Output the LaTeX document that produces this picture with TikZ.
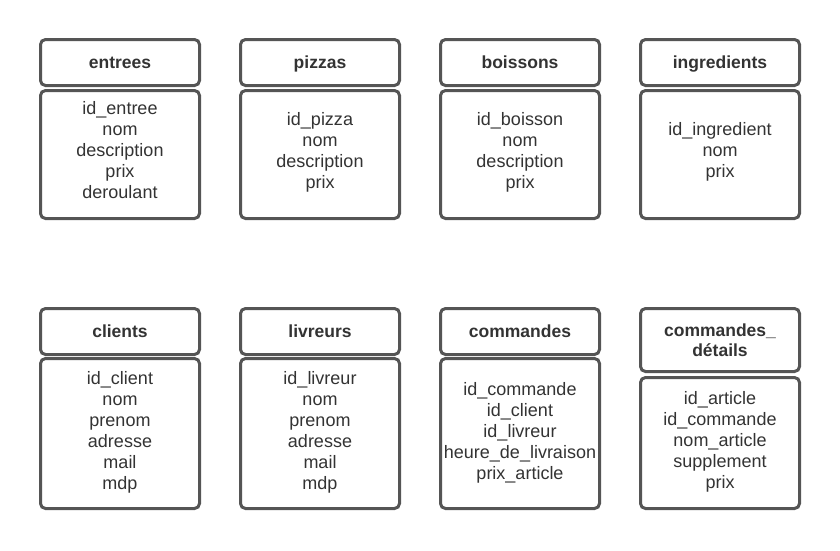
\documentclass[tikz,border=0pt]{standalone}
\usepackage{fontspec}
\setmainfont{Liberation Sans}
\usetikzlibrary{positioning}
\definecolor{edgegray}{HTML}{555555}
\definecolor{txtgray}{HTML}{333333}

\begin{document}
\begin{tikzpicture}[
    x=1pt, y=-1pt,
    every node/.style={align=center, rounded corners=5pt, very thick, outer sep=0pt, text=txtgray},
    tname/.style={draw=edgegray, line width=3pt, fill=white, minimum width=159pt, minimum height=46pt, text height=12.5pt, text depth=0pt, font=\fontsize{17.5}{20}\selectfont\bfseries},
    tfields/.style={draw=edgegray, line width=3pt, fill=white, minimum width=159pt, text depth=5.5pt, font=\fontsize{18}{21}\selectfont},
    topfields/.style={tfields, minimum height=128pt, text depth=9pt}
  ]
    \useasboundingbox (0,0) rectangle (840,550);

    % premiere ligne de tables
    \node[tname] (entrees) at (120,62.5) {entrees};
    \node[topfields,below=5pt of entrees] (entreesF) {id\_entree\\nom\\description\\prix\\deroulant};

    \node[tname] (pizzas) at (320,62.5) {pizzas};
    \node[topfields,below=5pt of pizzas] (pizzasF) {id\_pizza\\nom\\description\\prix};

    \node[tname] (boissons) at (520,62.5) {boissons};
    \node[topfields,below=5pt of boissons] (boissonsF) {id\_boisson\\nom\\description\\prix};

    \node[tname] (ingredients) at (720,62.5) {ingredients};
    \node[topfields,below=5pt of ingredients] (ingredientsF) {id\_ingredient\\nom\\prix};

    % deuxieme ligne de tables
    \node[tname] (clients) at (120,331.5) {clients};
    \node[tfields,minimum height=150pt,below=4pt of clients] (clientsF) {id\_client\\nom\\prenom\\adresse\\mail\\mdp};

    \node[tname] (livreurs) at (320,331.5) {livreurs};
    \node[tfields,minimum height=150pt,below=4pt of livreurs] (livreursF) {id\_livreur\\nom\\prenom\\adresse\\mail\\mdp};

    \node[tname] (commandes) at (520,331.5) {commandes};
    \node[tfields,minimum height=150pt,below=4pt of commandes] (commandesF) {id\_commande\\id\_client\\id\_livreur\\heure\_de\_livraison\\prix\_article};

    % en-tete sur deux lignes
    \node[tname,minimum height=63pt,text height=,text depth=] (details) at (720,340) {commandes\_\\détails};
    \node[tfields,minimum height=131pt,below=6pt of details] (detailsF) {id\_article\\id\_commande\\nom\_article\\supplement\\prix};

  \end{tikzpicture}
\end{document}
